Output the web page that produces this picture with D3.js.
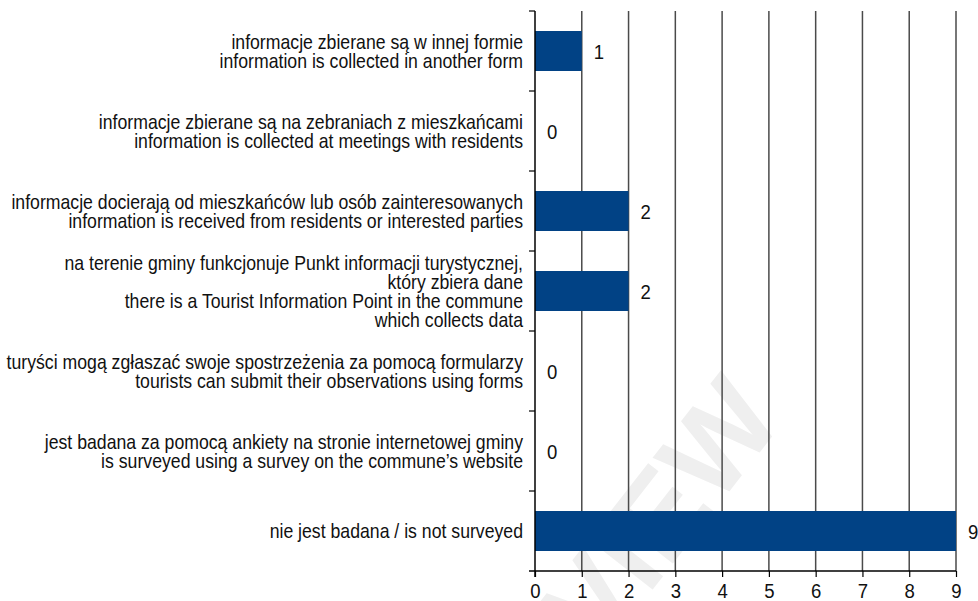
<!DOCTYPE html>
<html>
<head>
<meta charset="utf-8">
<script src="https://cdn.jsdelivr.net/npm/d3@7"></script>
<style>
  body { margin: 0; background: #fff; }
  svg { display: block; }
  text { font-family: "Liberation Sans", Arial, sans-serif; }
</style>
</head>
<body>
<div id="main"></div>
<script>
// categories, top to bottom (each label split into lines)
var categories = [
    ['informacje zbierane są w innej formie', 'information is collected in another form'],
    ['informacje zbierane są na zebraniach z mieszkańcami', 'information is collected at meetings with residents'],
    ['informacje docierają od mieszkańców lub osób zainteresowanych', 'information is received from residents or interested parties'],
    ['na terenie gminy funkcjonuje Punkt informacji turystycznej,', 'który zbiera dane', 'there is a Tourist Information Point in the commune', 'which collects data'],
    ['turyści mogą zgłaszać swoje spostrzeżenia za pomocą formularzy', 'tourists can submit their observations using forms'],
    ['jest badana za pomocą ankiety na stronie internetowej gminy', 'is surveyed using a survey on the commune’s website'],
    ['nie jest badana / is not surveyed']
];
var values = [1, 0, 2, 2, 0, 0, 9];
var xTicks = [0, 1, 2, 3, 4, 5, 6, 7, 8, 9];

var W = 978, H = 601;
var margins = {top: 11, right: 22, bottom: 30, left: 535};
var width = W - margins.left - margins.right, height = H - margins.top - margins.bottom;
var narrow = 'scale(0.884,1)';

var x = d3.scaleLinear().domain([0, 9]).range([0, width]);
var y = d3.scaleBand().domain(d3.range(categories.length)).range([0, height]).paddingInner(0.5).paddingOuter(0.25);
var yEdges = d3.scaleLinear().domain([0, categories.length]).range([0, height]);

var svg = d3.select('#main').append('svg')
    .attr('width', W).attr('height', H);

// faint watermark
svg.append('text')
    .attr('transform', 'translate(785,420) rotate(-52)')
    .attr('text-anchor', 'end')
    .style('font-weight', 'bold')
    .style('font-size', '118px')
    .style('fill', '#efefef')
    .text('PREVIEW');

var chart = svg.append('g')
    .attr('transform', 'translate(' + margins.left + ',' + margins.top + ')');

// vertical grid lines
chart.selectAll('.grid').data(xTicks.slice(1))
    .enter().append('line')
    .attr('class', 'grid')
    .attr('x1', function(d) { return x(d); }).attr('x2', function(d) { return x(d); })
    .attr('y1', 0).attr('y2', height)
    .style('stroke', '#4a4a4a')
    .style('stroke-width', 1.5);

// bars
chart.selectAll('.bar').data(values)
    .enter().append('rect')
    .attr('class', 'bar')
    .attr('x', x(0))
    .attr('y', function(d, i) { return y(i); })
    .attr('width', function(d) { return x(d) - x(0); })
    .attr('height', y.bandwidth())
    .style('fill', '#014285');

// value labels
chart.selectAll('.val').data(values)
    .enter().append('text')
    .attr('class', 'val')
    .attr('transform', function(d, i) {
        return 'translate(' + (x(d) + 12) + ',' + (y(i) + y.bandwidth() / 2) + ') ' + narrow;
    })
    .attr('dy', '0.36em')
    .style('font-size', '21px')
    .style('fill', '#111')
    .text(function(d) { return d; });

// x axis
var xAxis = d3.axisBottom(x).tickValues(xTicks).tickFormat(d3.format('d')).tickSize(6).tickSizeOuter(0);
var gx = chart.append('g')
    .attr('transform', 'translate(0,' + height + ')')
    .call(xAxis);
gx.select('.domain').attr('d', 'M-6,0H' + width).style('stroke', '#000').style('stroke-width', 1.5);
gx.selectAll('.tick line').style('stroke', '#000').style('stroke-width', 1.2);
gx.selectAll('.tick text')
    .attr('y', 12)
    .attr('dy', '0.71em')
    .attr('transform', narrow)
    .style('font-size', '21px')
    .style('fill', '#111');

// y axis: line with ticks at band edges
chart.append('line')
    .attr('x1', 0).attr('x2', 0).attr('y1', 0).attr('y2', height + 6)
    .style('stroke', '#000').style('stroke-width', 1.5);
chart.selectAll('.ytick').data(d3.range(categories.length))
    .enter().append('line')
    .attr('class', 'ytick')
    .attr('x1', -6).attr('x2', 0)
    .attr('y1', function(d) { return yEdges(d); }).attr('y2', function(d) { return yEdges(d); })
    .style('stroke', '#000').style('stroke-width', 1.2);

// category labels
var lineH = 19;
var labels = chart.selectAll('.cat').data(categories)
    .enter().append('text')
    .attr('class', 'cat')
    .attr('text-anchor', 'end')
    .style('font-size', '20px')
    .style('fill', '#111')
    .attr('transform', function(d, i) {
        var cy = y(i) + y.bandwidth() / 2 - (d.length - 1) * lineH / 2;
        return 'translate(-12,' + cy + ') ' + narrow;
    });
labels.selectAll('tspan').data(function(d) { return d; })
    .enter().append('tspan')
    .attr('x', 0)
    .attr('y', function(d, i) { return i * lineH; })
    .attr('dy', '0.36em')
    .text(function(d) { return d; });
</script>
</body>
</html>
